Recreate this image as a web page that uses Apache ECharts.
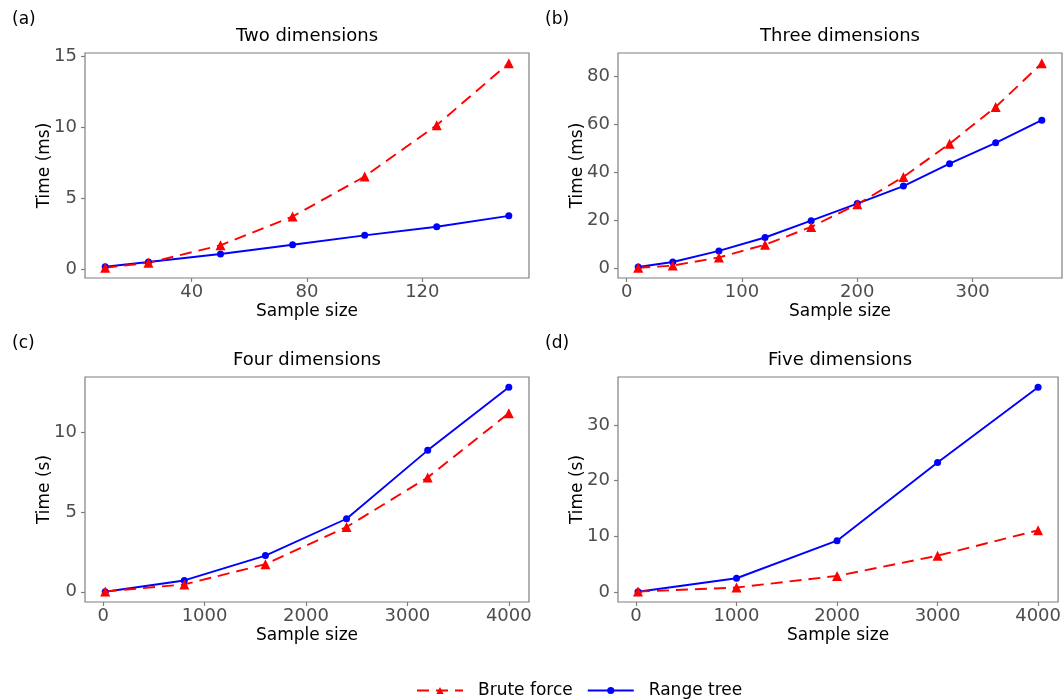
<!DOCTYPE html>
<html>
<head>
<meta charset="utf-8">
<script src="https://cdn.jsdelivr.net/npm/echarts@6/dist/echarts.min.js"></script>
<style>
html,body{margin:0;padding:0;background:#fff}
#chart{width:1064px;height:700px}
</style>
</head>
<body>
<div id="chart"></div>
<script>
// (a) two dimensions, ms
var sizes2d = [10, 25, 50, 75, 100, 125, 150]
var brute2d = [0.12, 0.47, 1.7, 3.72, 6.53, 10.14, 14.49]
var tree2d = [0.19, 0.53, 1.09, 1.74, 2.4, 3.0, 3.77]
// (b) three dimensions, ms
var sizes3d = [10, 40, 80, 120, 160, 200, 240, 280, 320, 360]
var brute3d = [0.3, 1.2, 4.6, 9.9, 17.3, 26.7, 38.1, 51.9, 67.2, 85.4]
var tree3d = [0.6, 2.7, 7.3, 12.9, 19.9, 27.0, 34.3, 43.6, 52.3, 61.7]
// (c) four dimensions, s
var sizes4d = [20, 800, 1600, 2400, 3200, 4000]
var brute4d = [0.02, 0.46, 1.73, 4.06, 7.17, 11.2]
var tree4d = [0.0, 0.71, 2.27, 4.58, 8.87, 12.83]
// (d) five dimensions, s
var sizes5d = [20, 1000, 2000, 3000, 4000]
var brute5d = [0.05, 0.78, 2.87, 6.5, 11.06]
var tree5d = [0.02, 2.45, 9.2, 23.25, 36.76]

// tick labels
var xTicks2d = [40, 80, 120]
var xTicks3d = [0, 100, 200, 300]
var xTicksBig = [0, 1000, 2000, 3000, 4000]
var yTicks2d = [0, 5, 10, 15]
var yTicks3d = [0, 20, 40, 60, 80]
var yTicks4d = [0, 5, 10]
var yTicks5d = [0, 10, 20, 30]

var titles = ['Two dimensions', 'Three dimensions', 'Four dimensions', 'Five dimensions']
var tags = ['(a)', '(b)', '(c)', '(d)']
var seriesNames = ['Brute force', 'Range tree']

var FONT = 'DejaVu Sans'
var GREY = '#7f7f7f'

var panels = [
  {xs: sizes2d, brute: brute2d, tree: tree2d, xt: xTicks2d, yt: yTicks2d, yName: 'Time (ms)', left: 85, top: 53},
  {xs: sizes3d, brute: brute3d, tree: tree3d, xt: xTicks3d, yt: yTicks3d, yName: 'Time (ms)', left: 618, top: 53},
  {xs: sizes4d, brute: brute4d, tree: tree4d, xt: xTicksBig, yt: yTicks4d, yName: 'Time (s)', left: 85, top: 377},
  {xs: sizes5d, brute: brute5d, tree: tree5d, xt: xTicksBig, yt: yTicks5d, yName: 'Time (s)', left: 618, top: 377}
]
var W = 444, H = 225

// ggplot-like 5% padding around the data range
function padded(vals) {
  var lo = Math.min.apply(null, vals), hi = Math.max.apply(null, vals)
  var d = (hi - lo) * 0.05
  return [lo - d, hi + d]
}
function pairs(xs, ys) {
  return xs.map(function (x, i) { return [x, ys[i]] })
}
function plain(v) { return String(v) }

var grids = [], xAxes = [], yAxes = [], series = [], graphics = []
panels.forEach(function (p, i) {
  grids.push({left: p.left, top: p.top, width: W, height: H, show: true,
    borderColor: GREY, borderWidth: 1.2, backgroundColor: 'transparent'})
  var xr = padded(p.xs)
  var yr = padded(p.brute.concat(p.tree))
  xAxes.push({
    type: 'value', gridIndex: i, min: xr[0], max: xr[1], position: 'bottom',
    name: 'Sample size', nameLocation: 'middle', nameGap: 25, nameMoveOverlap: false,
    nameTextStyle: {fontFamily: FONT, fontSize: 17, color: '#000'},
    axisLine: {show: false, onZero: false}, splitLine: {show: false},
    axisTick: {show: true, length: 4, customValues: p.xt, lineStyle: {color: GREY, width: 1.2}},
    axisLabel: {customValues: p.xt, formatter: plain, margin: 5, fontFamily: FONT, fontSize: 18, color: '#4d4d4d'}
  })
  yAxes.push({
    type: 'value', gridIndex: i, min: yr[0], max: yr[1], position: 'left',
    name: p.yName, nameLocation: 'middle', nameGap: 32, nameMoveOverlap: false,
    nameTextStyle: {fontFamily: FONT, fontSize: 17, color: '#000'},
    axisLine: {show: false, onZero: false}, splitLine: {show: false},
    axisTick: {show: true, length: 4, customValues: p.yt, lineStyle: {color: GREY, width: 1.2}},
    axisLabel: {customValues: p.yt, formatter: plain, margin: 8, fontFamily: FONT, fontSize: 18, color: '#4d4d4d'}
  })
  series.push({
    name: seriesNames[1], type: 'line', xAxisIndex: i, yAxisIndex: i,
    data: pairs(p.xs, p.tree), symbol: 'circle', symbolSize: 7,
    lineStyle: {color: '#0000ff', width: 1.9},
    itemStyle: {color: '#0000ff', borderWidth: 0}
  })
  series.push({
    name: seriesNames[0], type: 'line', xAxisIndex: i, yAxisIndex: i,
    data: pairs(p.xs, p.brute), symbol: 'triangle', symbolSize: 10,
    lineStyle: {color: '#ff0000', width: 1.9, type: [12, 7]},
    itemStyle: {color: '#ff0000', borderWidth: 0}
  })
  graphics.push({type: 'text', x: p.left + W / 2, y: p.top - 17,
    style: {text: titles[i], font: '18px "DejaVu Sans"', fill: '#000', textAlign: 'center', textVerticalAlign: 'middle'}})
  graphics.push({type: 'text', x: p.left - 73, y: p.top - 33,
    style: {text: tags[i], font: '17px "DejaVu Sans"', fill: '#000', textAlign: 'left', textVerticalAlign: 'middle'}})
})

var chart = echarts.init(document.getElementById('chart'), null, {renderer: 'canvas'})
chart.setOption({
  animation: false,
  backgroundColor: '#fff',
  grid: grids,
  xAxis: xAxes,
  yAxis: yAxes,
  series: series,
  graphic: graphics,
  legend: {
    data: seriesNames, left: 416, top: 682, padding: 0,
    itemWidth: 46, itemHeight: 9, itemGap: 14,
    textStyle: {fontFamily: FONT, fontSize: 17, color: '#000', padding: [0, 0, 0, 10]}
  }
})
</script>
</body>
</html>
